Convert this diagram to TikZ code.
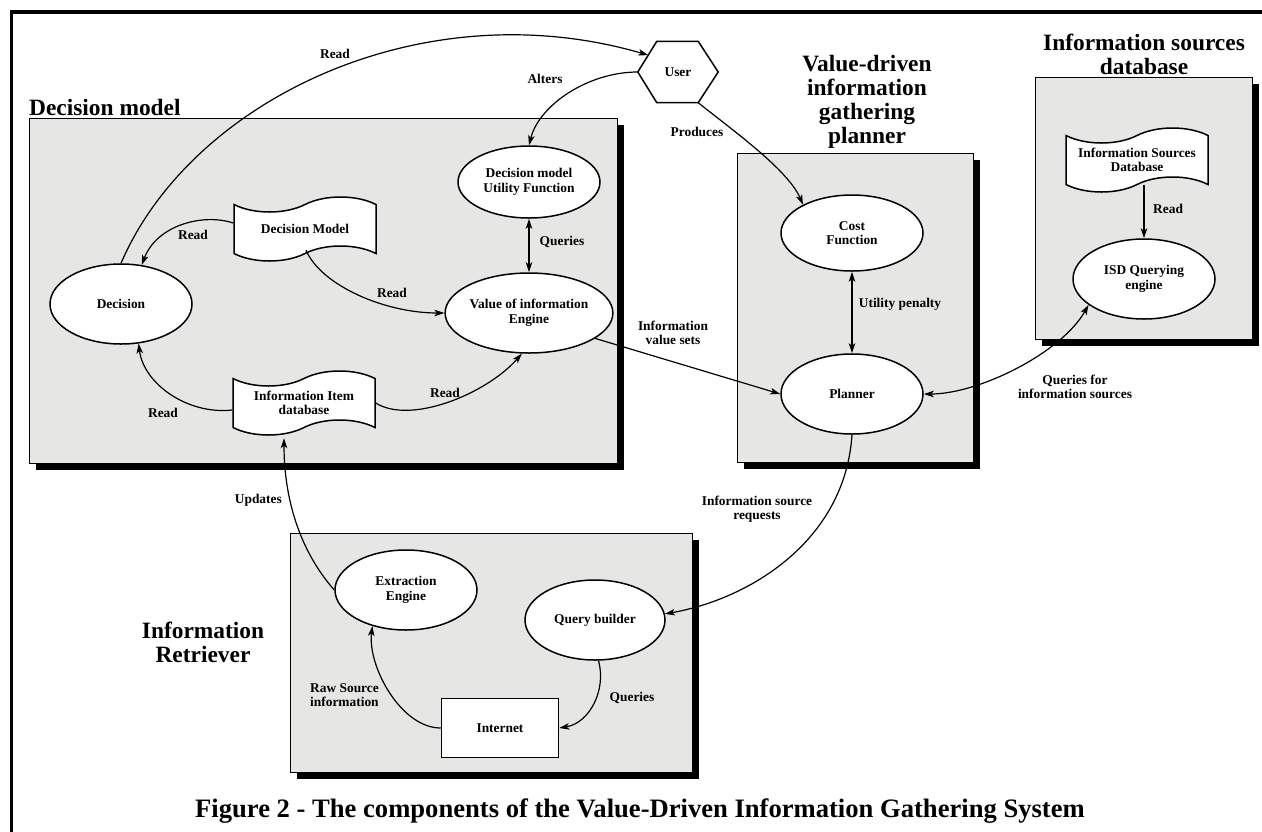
\documentclass[tikz,border=0pt]{standalone}
\usepackage{fontspec}
\setmainfont{Liberation Serif}
\usetikzlibrary{arrows.meta,shapes.geometric,shapes.symbols,shadows,calc}
\definecolor{boxgray}{RGB}{230,230,229}
\begin{document}
\begin{tikzpicture}[x=1pt,y=-1pt,
  txt/.style={font=\fontsize{13.4}{14.6}\selectfont\bfseries, align=center, inner sep=0pt},
  ttl/.style={font=\fontsize{23.4}{24}\selectfont\bfseries, align=center, inner sep=0pt},
  panel/.style={draw, line width=1.4pt, fill=boxgray, anchor=north west, inner sep=0pt,
    drop shadow={shadow xshift=6pt, shadow yshift=-6pt, fill=black, opacity=1}},
  ell/.style={ellipse, draw, fill=white, line width=1.5pt, minimum width=142pt,
    minimum height=80pt, inner sep=0pt, txt},
  doc/.style={tape, draw, fill=white, line width=1.5pt, minimum width=142pt,
    minimum height=64pt, tape bend height=15pt, inner sep=0pt, txt},
  tip/.tip={Stealth[length=10pt,width=6.5pt,inset=2.5pt]},
  conn/.style={line width=1.2pt, -tip},
  biconn/.style={line width=1.2pt, tip-tip},
]
\useasboundingbox (0,0) rectangle (1262,831);
% outer frame
\draw[line width=3.5pt] (11.5,840) -- (11.5,12) -- (1270,12);

% panels
\node[panel, minimum width=588pt, minimum height=345pt] (dmbox) at (29,118) {};
\node[panel, minimum width=236pt, minimum height=309pt] (pbox) at (737,153) {};
\node[panel, minimum width=217pt, minimum height=262pt] (isdbox) at (1035,77) {};
\node[panel, minimum width=402pt, minimum height=239pt] (irbox) at (290,533) {};

% titles
\node[ttl, anchor=base west] (tdm) at (29,115) {Decision model};
\node[ttl] (tvd) at (867,102) {Value-driven\\information\\gathering\\planner};
\node[ttl] (tisd) at (1144,54) {Information sources\\database};
\node[ttl] (tir) at (203,642) {Information\\Retriever};

% nodes
\node[ell] (decision) at (121,304) {Decision};
\node[ell, minimum height=72pt] (util) at (529,182) {Decision model\\Utility Function};
\node[ell] (voi) at (529,313) {Value of information\\Engine};
\node[doc] (dmdoc) at (305,229) {Decision Model};
\node[doc] (iidoc) at (304,403) {Information Item\\database};
\node[ell, minimum height=76pt] (cost) at (852,233) {Cost\\Function};
\node[ell] (planner) at (852,394) {Planner};
\node[ell] (isdq) at (1144,279) {ISD Querying\\engine};
\node[doc] (isddoc) at (1137,160) {Information Sources\\Database};
\node[ell] (extract) at (406,590) {Extraction\\Engine};
\node[ell, minimum width=140pt] (qb) at (595,620) {Query builder};
\node[draw, fill=white, line width=1.5pt, minimum width=117pt, minimum height=59pt, txt] (internet) at (500,728) {Internet};

% user hexagon
\node[minimum width=80pt, minimum height=61pt, inner sep=0pt, txt] (user) at (678,72) {User};
\coordinate (uW) at (user.west);
\coordinate (uNW) at ($(user.north west)+(19,0)$);
\coordinate (uNE) at ($(user.north east)+(-20,0)$);
\coordinate (uE) at (user.east);
\coordinate (uSE) at ($(user.south east)+(-20,0)$);
\coordinate (uSW) at ($(user.south west)+(19,0)$);
\draw[line width=1.5pt] (uW) -- (uNW) -- (uNE) -- (uE) -- (uSE) -- (uSW) -- cycle;
\coordinate (uUL) at ($(uW)!0.55!(uNW)$);

% connectors
\draw[conn] ($(dmdoc.west)+(0,-6)$) .. controls +(-30,-10) and +(15,-40) .. (decision.62);
\draw[conn] ($(dmdoc.south)+(1,-4)$) .. controls +(15,35) and +(-60,0) .. (voi.west);
\draw[conn] ($(iidoc.west)+(0,7)$) .. controls +(-45,5) and +(5,40) .. (decision.-66);
\draw[conn] ($(iidoc.east)+(0,0)$) .. controls +(35,22) and +(-35,40) .. (voi.-100);
\draw[biconn] (util.south) -- (voi.north);
\draw[conn] (decision.north) .. controls +(70,-163) and +(-227,-66) .. (uUL);
\draw[conn] (uW) .. controls +(-50,0) and +(10,-40) .. (util.north);
\draw[conn] (uSE) .. controls +(35,28) and +(-15,-35) .. (cost.150);
\draw[biconn] (cost.south) -- (planner.north);
\draw[conn] (voi.-21) -- (planner.west);
\draw[biconn] (isdq.205) .. controls +(-27,48) and +(55,0) .. (planner.east);
\draw[conn] (isdq.north |- isddoc.south) -- (isdq.north);
\draw[conn] (planner.south) .. controls +(-7,106) and +(85,-15) .. (qb.5);
\draw[conn] (qb.-85) .. controls +(8,30) and +(30,-5) .. (internet.east);
\draw[conn] (internet.west) .. controls +(-40,0) and +(-5,40) .. (extract.227);
\draw[conn] (extract.west) .. controls +(-35,-40) and +(0,60) .. ($(iidoc.south)+(-20,10)$);

% connector labels
\node[txt] (l1) at (193,235) {Read};
\node[txt] (l2) at (392,293) {Read};
\node[txt] (l3) at (163,413) {Read};
\node[txt] (l4) at (445,393) {Read};
\node[txt] (l5) at (562,242) {Queries};
\node[txt] (l6) at (335,54) {Read};
\node[txt] (l7) at (545,79) {Alters};
\node[txt] (l8) at (697,132) {Produces};
\node[txt] (l9) at (900,304) {Utility penalty};
\node[txt] (l10) at (673,333) {Information\\value sets};
\node[txt] (l11) at (1075,387) {Queries for\\information sources};
\node[txt, anchor=west] (l12) at (1153,209) {Read};
\node[txt] (l13) at (757,509) {Information source\\requests};
\node[txt] (l14) at (632,698) {Queries};
\node[txt, align=left, anchor=west] (l15) at (310,695) {Raw Source\\information};
\node[txt, anchor=east] (l16) at (282,500) {Updates};

% caption
\node[font=\fontsize{26.6}{28}\selectfont\bfseries, inner sep=0pt] (cap) at (640,811) {Figure 2 - The components of the Value-Driven Information Gathering System};
\end{tikzpicture}
\end{document}
